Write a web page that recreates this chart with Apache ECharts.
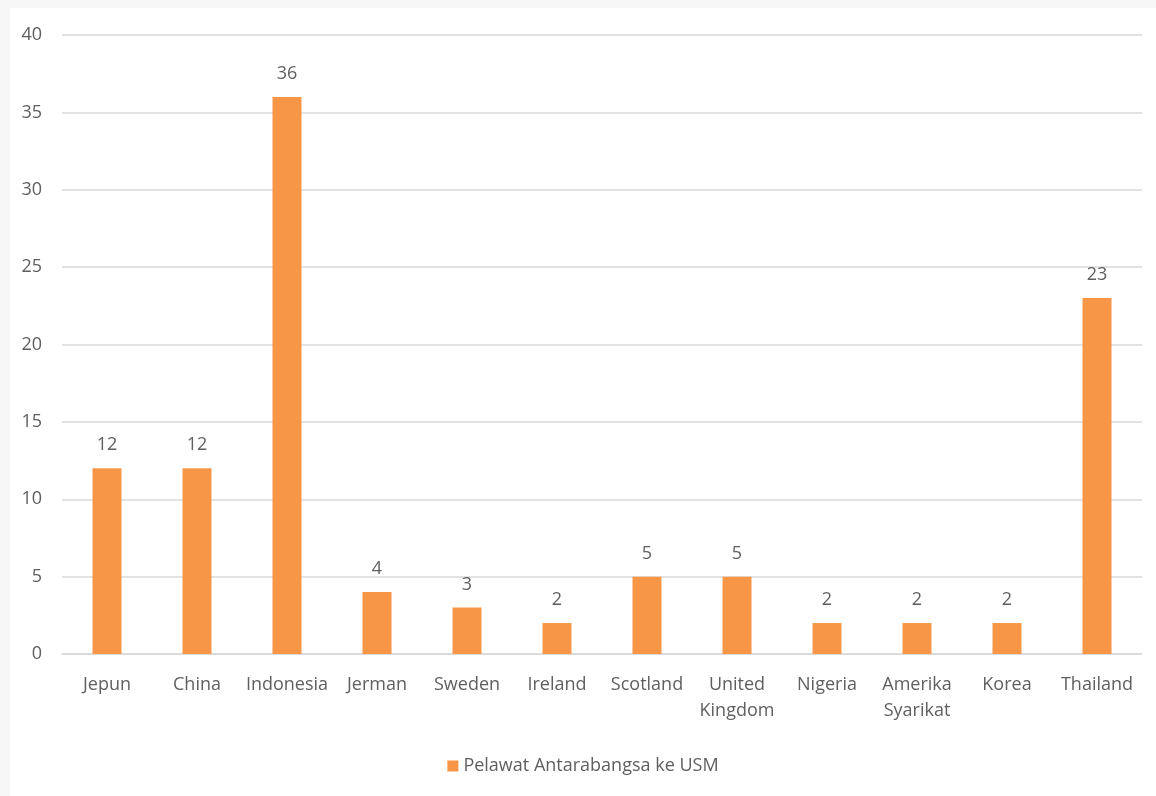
<!DOCTYPE html>
<html><head><meta charset="utf-8">
<script src="https://cdn.jsdelivr.net/npm/echarts@6/dist/echarts.min.js"></script>
<style>
html,body{margin:0;padding:0;background:#f7f7f7;width:1156px;height:796px;overflow:hidden}
#c{position:absolute;left:10px;top:8px;width:1146px;height:788px;background:#fff}
</style></head><body><div id="c"></div>
<script>
const categories = ['Jepun','China','Indonesia','Jerman','Sweden','Ireland','Scotland','United\nKingdom','Nigeria','Amerika\nSyarikat','Korea','Thailand'];
const values = [12,12,36,4,3,2,5,5,2,2,2,23];
const seriesName = 'Pelawat Antarabangsa ke USM';
const chart = echarts.init(document.getElementById('c'));
const txt = '#5f5f5f';
const ff = '"Open Sans", sans-serif';
chart.setOption({
  animation:false,
  grid:{left:52,right:14,top:27,bottom:142,containLabel:false},
  legend:{bottom:16,left:'center',itemWidth:11,itemHeight:11,icon:'rect',itemGap:6,
    textStyle:{color:txt,fontSize:18,fontFamily:ff},data:[seriesName]},
  xAxis:{type:'category',data:categories,
    axisLine:{lineStyle:{color:'#d9d9d9',width:1.5}},axisTick:{show:false},
    axisLabel:{color:txt,fontSize:18,fontFamily:ff,margin:18,lineHeight:26,interval:0}},
  yAxis:{type:'value',min:0,max:40,interval:5,
    axisLine:{show:false},axisTick:{show:false},
    splitLine:{lineStyle:{color:'#d9d9d9',width:1.5}},
    axisLabel:{color:txt,fontSize:18,fontFamily:ff,margin:20}},
  series:[{name:seriesName,type:'bar',data:values,barWidth:29,
    itemStyle:{color:'#f79646'},
    label:{show:true,position:'top',distance:14,color:txt,fontSize:18,fontFamily:ff}}]
});
</script></body></html>
